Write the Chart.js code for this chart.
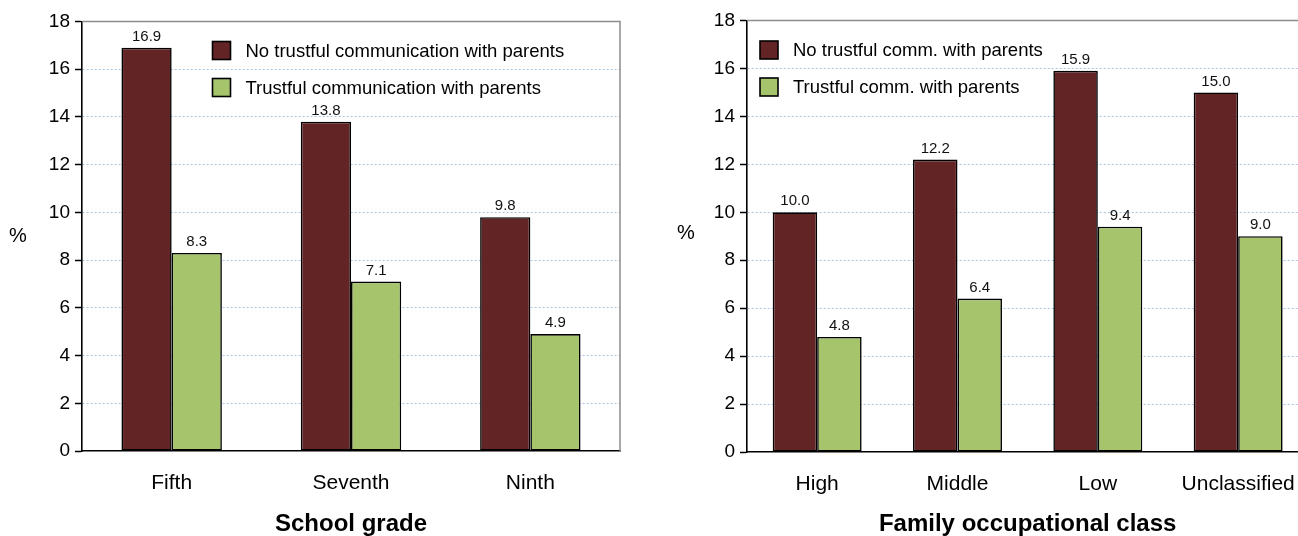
<!DOCTYPE html>
<html>
<head>
<meta charset="utf-8">
<script src="https://cdn.jsdelivr.net/npm/chart.js@4.4.1/dist/chart.umd.min.js"></script>
<style>
  html, body { margin: 0; padding: 0; background: #fff; overflow: hidden; }
  body { width: 1298px; height: 536px; position: relative; }
  .panel { position: absolute; top: 0; }
</style>
</head>
<body>
<div class="panel" style="left:0px"><canvas id="gradeChart" width="640" height="536"></canvas></div>
<div class="panel" style="left:665px"><canvas id="classChart" width="650" height="536"></canvas></div>
<script>
// values
const gradeLabels = ["Fifth", "Seventh", "Ninth"];
const gradeNoTrust = [16.9, 13.8, 9.8];
const gradeTrust = [8.3, 7.1, 4.9];

const classLabels = ["High", "Middle", "Low", "Unclassified"];
const classNoTrust = [10.0, 12.2, 15.9, 15.0];
const classTrust = [4.8, 6.4, 9.4, 9.0];

const yMin = 0;
const yMax = 18;
const yStep = 2;

const RED = "#632425";
const GREEN = "#a6c46c";
const FONT = "'Liberation Sans', Arial, sans-serif";

// bar value labels, legend inside the plot, top/right frame and the "%" label
const extras = {
  id: "extras",
  afterDatasetsDraw(chart, args, opts) {
    const ctx = chart.ctx;
    const area = chart.chartArea;
    ctx.save();

    // frame on top and right
    ctx.strokeStyle = "#8c8c8c";
    ctx.lineWidth = 1.5;
    ctx.beginPath();
    ctx.moveTo(area.left, area.top);
    ctx.lineTo(area.right, area.top);
    ctx.lineTo(area.right, area.bottom);
    ctx.stroke();

    // value labels
    ctx.font = "15px " + FONT;
    ctx.fillStyle = "#111";
    ctx.textAlign = "center";
    ctx.textBaseline = "bottom";
    chart.data.datasets.forEach((ds, i) => {
      chart.getDatasetMeta(i).data.forEach((bar, j) => {
        ctx.fillText(ds.data[j].toFixed(1), bar.x, bar.y - 3.5);
      });
    });

    // legend
    ctx.font = "18.5px " + FONT;
    ctx.textAlign = "left";
    ctx.textBaseline = "middle";
    chart.data.datasets.forEach((ds, i) => {
      const y = opts.legendY[i];
      ctx.fillStyle = ds.backgroundColor;
      ctx.fillRect(opts.legendX, y - 9, 18, 18);
      ctx.strokeStyle = "#000";
      ctx.lineWidth = 1.6;
      ctx.strokeRect(opts.legendX, y - 9, 18, 18);
      ctx.fillStyle = "#000";
      ctx.fillText(ds.label, opts.legendX + 33, y + 1);
    });

    // "%" axis label (upright)
    ctx.font = "20px " + FONT;
    ctx.textAlign = "center";
    ctx.fillText("%", opts.pctX, opts.pctY);
    ctx.restore();
  }
};

function makeChart(id, labels, noTrust, trust, names, title, cfg) {
  return new Chart(document.getElementById(id), {
    type: "bar",
    data: {
      labels: labels,
      datasets: [
        {
          label: names[0],
          data: noTrust,
          backgroundColor: RED,
          borderColor: "#000",
          borderWidth: 1.6,
          borderSkipped: false,
        },
        {
          label: names[1],
          data: trust,
          backgroundColor: GREEN,
          borderColor: "#000",
          borderWidth: 1.6,
          borderSkipped: false,
        },
      ],
    },
    options: {
      responsive: false,
      animation: false,
      devicePixelRatio: 1,
      layout: { padding: { top: cfg.top, right: cfg.right, left: 0, bottom: 0 } },
      datasets: { bar: { barPercentage: 1, categoryPercentage: cfg.catPct } },
      plugins: {
        legend: { display: false },
        tooltip: { enabled: false },
        extras: cfg.extras,
      },
      scales: {
        x: {
          afterFit: (s) => { s.height = cfg.xHeight; },
          grid: { drawOnChartArea: false, drawTicks: false },
          border: { color: "#000", width: 1.6 },
          ticks: { color: "#000", padding: 19.5, font: { family: FONT, size: 21 } },
          title: {
            display: true,
            text: title,
            color: "#000",
            padding: { top: 0, bottom: -3 },
            font: { family: FONT, size: 24, weight: "bold" },
          },
        },
        y: {
          min: yMin,
          max: yMax,
          afterFit: (s) => { s.width = 82; },
          ticks: {
            stepSize: yStep,
            color: "#000",
            padding: 5,
            font: { family: FONT, size: 19 },
          },
          grid: {
            color: (c) => (c.tick && (c.tick.value === yMin || c.tick.value === yMax) ? "rgba(0,0,0,0)" : "#a9c5e4"),
            lineWidth: 1,
            tickLength: 7,
            tickColor: "#000",
            tickWidth: 1.5,
            tickBorderDash: [],
          },
          border: { color: "#000", width: 1.6, dash: [2, 2] },
        },
      },
    },
    plugins: [extras],
  });
}

makeChart(
  "gradeChart",
  gradeLabels,
  gradeNoTrust,
  gradeTrust,
  ["No trustful communication with parents", "Trustful communication with parents"],
  "School grade",
  {
    top: 21.5,
    right: 20,
    catPct: 0.56,
    xHeight: 85,
    extras: { legendX: 212.5, legendY: [50.5, 87.5], pctX: 18, pctY: 236 },
  }
);

makeChart(
  "classChart",
  classLabels,
  classNoTrust,
  classTrust,
  ["No trustful comm. with parents", "Trustful comm. with parents"],
  "Family occupational class",
  {
    top: 20.5,
    right: 6,
    catPct: 0.634,
    xHeight: 84,
    extras: { legendX: 95, legendY: [50, 87], pctX: 21, pctY: 233 },
  }
);
</script>
</body>
</html>
